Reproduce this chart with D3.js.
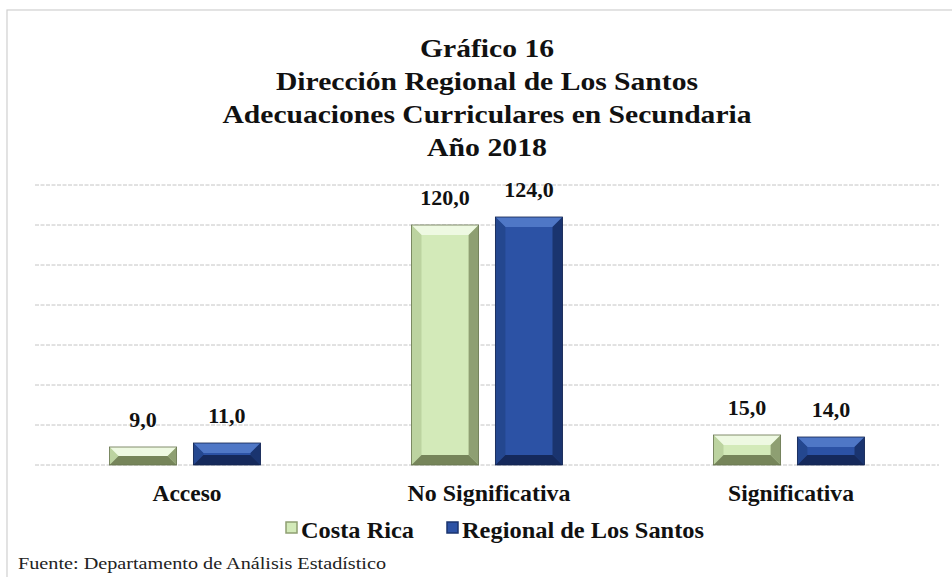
<!DOCTYPE html>
<html>
<head>
<meta charset="utf-8">
<script src="https://cdn.jsdelivr.net/npm/d3@7"></script>
<style>
  body { margin: 0; background: #fff; }
</style>
</head>
<body>
<svg id="chart" width="952" height="577" font-family="'Liberation Serif', 'Times New Roman', 'DejaVu Serif', serif"></svg>
<script>
// data
var categories = ["Acceso", "No Significativa", "Significativa"];
var seriesNames = ["Costa Rica", "Regional de Los Santos"];
var costaRica = [9, 120, 15];
var regional = [11, 124, 14];
var yTicks = [0, 20, 40, 60, 80, 100, 120, 140];
var titleLines = ["Gráfico  16", "Dirección Regional de Los Santos",
  "Adecuaciones Curriculares en Secundaria", "Año 2018"];
var sourceText = "Fuente: Departamento de  Análisis  Estadístico";

var svg = d3.select("#chart");

// frame
svg.append("rect")
  .attr("x", 7).attr("y", 10)
  .attr("width", 980).attr("height", 600)
  .attr("fill", "none")
  .attr("stroke", "#d0d0d0")
  .attr("stroke-width", 1.2);

var x0 = d3.scaleBand().domain(categories).range([34, 940])
  .paddingInner(0.5).paddingOuter(0.25);
var x1 = d3.scaleBand().domain(seriesNames).range([0, x0.bandwidth()])
  .paddingInner(0.2);
var y = d3.scaleLinear().domain([0, 140]).range([465, 185]);

// gridlines
svg.selectAll(".grid")
  .data(yTicks)
  .enter()
  .append("line")
  .attr("class", "grid")
  .attr("x1", 35).attr("x2", 939)
  .attr("y1", (d)=>(y(d))).attr("y2", (d)=>(y(d)))
  .attr("stroke", "#c4c4c4")
  .attr("stroke-width", 1)
  .attr("stroke-dasharray", "4,1.5");

// bevel colours
var palette = {
  "Costa Rica": { main: "#d3eab9", top: "#eef9e2", left: "#bcd3a0", right: "#8e9f72", bottom: "#76855a" },
  "Regional de Los Santos": { main: "#2c52a5", top: "#4f77c6", left: "#24478f", right: "#1a346f", bottom: "#15295b" }
};

var rows = [];
categories.forEach(function (c, i) {
  rows.push({ cat: c, series: seriesNames[0], value: costaRica[i] });
  rows.push({ cat: c, series: seriesNames[1], value: regional[i] });
});

var bars = svg.selectAll(".bar")
  .data(rows)
  .enter()
  .append("g")
  .attr("class", "bar")
  .attr("transform", (d)=>("translate(" + (x0(d.cat) + x1(d.series)) + "," + y(d.value) + ")"));

bars.each(function (d) {
  var g = d3.select(this);
  var w = x1.bandwidth();
  var h = y(0) - y(d.value);
  var b = Math.min(10, h / 2);
  var c = palette[d.series];
  g.append("rect").attr("width", w).attr("height", h).attr("fill", c.main);
  g.append("polygon").attr("fill", c.top)
    .attr("points", [[0, 0], [w, 0], [w - b, b], [b, b]].join(" "));
  g.append("polygon").attr("fill", c.left)
    .attr("points", [[0, 0], [b, b], [b, h - b], [0, h]].join(" "));
  g.append("polygon").attr("fill", c.right)
    .attr("points", [[w, 0], [w, h], [w - b, h - b], [w - b, b]].join(" "));
  g.append("polygon").attr("fill", c.bottom)
    .attr("points", [[0, h], [b, h - b], [w - b, h - b], [w, h]].join(" "));
  g.append("rect").attr("width", w).attr("height", h)
    .attr("fill", "none").attr("stroke", d3.color(c.bottom).darker(0.4)).attr("stroke-width", 0.8);
});

// value labels
svg.selectAll(".valueLabel")
  .data(rows)
  .enter()
  .append("text")
  .attr("class", "valueLabel")
  .attr("x", (d)=>(x0(d.cat) + x1(d.series) + x1.bandwidth() / 2))
  .attr("y", (d)=>(y(d.value) - 20))
  .attr("text-anchor", "middle")
  .attr("font-size", "22px")
  .attr("font-weight", "bold")
  .attr("fill", "#111")
  .text((d)=>(d3.format(".1f")(d.value).replace(".", ",")));

// category labels
var catWidths = [69, 163, 126];
svg.selectAll(".catLabel")
  .data(categories)
  .enter()
  .append("text")
  .attr("class", "catLabel")
  .attr("x", (d)=>(x0(d) + x0.bandwidth() / 2 + 2))
  .attr("y", 501)
  .attr("text-anchor", "middle")
  .attr("font-size", "23px")
  .attr("font-weight", "bold")
  .attr("fill", "#111")
  .attr("textLength", (d,i)=>(catWidths[i]))
  .attr("lengthAdjust", "spacingAndGlyphs")
  .text((d)=>(d));

// title
var titleWidths = [134, 422, 529, 120];
svg.selectAll(".title")
  .data(titleLines)
  .enter()
  .append("text")
  .attr("class", "title")
  .attr("x", 487)
  .attr("y", (d,i)=>(57 + i * 33))
  .attr("text-anchor", "middle")
  .attr("font-size", "26px")
  .attr("font-weight", "bold")
  .attr("fill", "#111")
  .attr("textLength", (d,i)=>(titleWidths[i]))
  .attr("lengthAdjust", "spacingAndGlyphs")
  .text((d)=>(d));

// legend
var legendData = [
  { name: seriesNames[0], x: 286, width: 113 },
  { name: seriesNames[1], x: 447, width: 242 }
];
var legend = svg.append("g");
legend.selectAll(".legendRect")
  .data(legendData)
  .enter()
  .append("rect")
  .attr("class", "legendRect")
  .attr("x", (d)=>(d.x)).attr("y", 522)
  .attr("width", 11).attr("height", 11)
  .attr("fill", (d)=>(palette[d.name].main))
  .attr("stroke", (d)=>(palette[d.name].right))
  .attr("stroke-width", 1.5);
legend.selectAll(".legendText")
  .data(legendData)
  .enter()
  .append("text")
  .attr("class", "legendText")
  .attr("x", (d)=>(d.x + 15)).attr("y", 538)
  .attr("font-size", "24px")
  .attr("font-weight", "bold")
  .attr("fill", "#111")
  .attr("textLength", (d)=>(d.width))
  .attr("lengthAdjust", "spacingAndGlyphs")
  .text((d)=>(d.name));

// source note
svg.append("text")
  .attr("x", 18).attr("y", 569)
  .attr("font-size", "16px")
  .attr("fill", "#222")
  .attr("textLength", 368)
  .attr("lengthAdjust", "spacingAndGlyphs")
  .text(sourceText);
</script>
</body>
</html>
